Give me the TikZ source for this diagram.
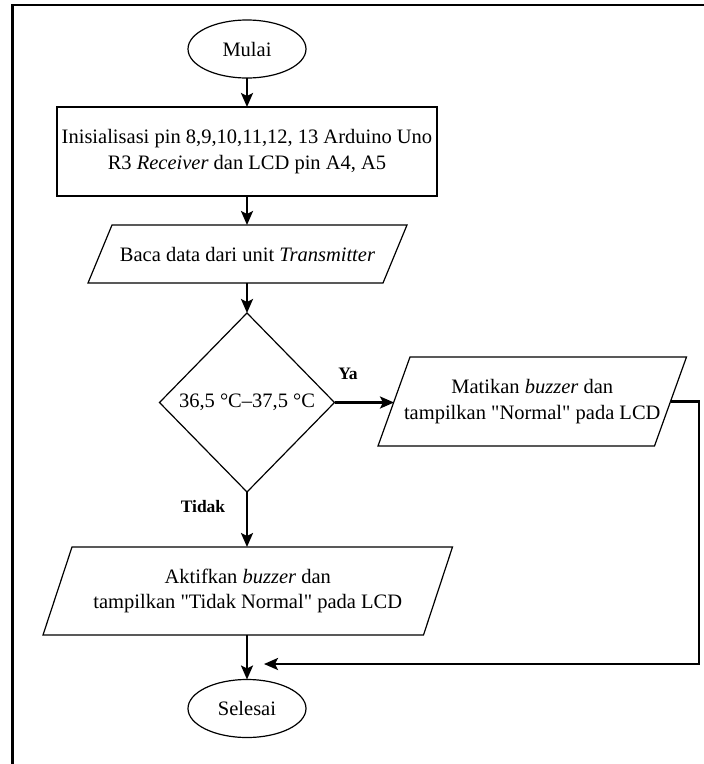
\documentclass[tikz,border=0pt]{standalone}
\usepackage{fontspec}
\setmainfont{Liberation Serif}
\usetikzlibrary{calc,arrows.meta,shapes.geometric}
\begin{document}
\begin{tikzpicture}[x=1pt,y=-1pt,
  every node/.style={font=\fontsize{20.5}{25.5}\selectfont},
  shapeline/.style={draw=black,line width=1.2pt},
  term/.style={ellipse,shapeline,minimum width=118pt,minimum height=58pt,inner sep=0pt,outer sep=0pt},
  procbox/.style={rectangle,shapeline,minimum width=380pt,minimum height=89pt,inner sep=0pt,outer sep=0pt,align=center},
  holder/.style={rectangle,draw=none,inner sep=0pt,outer sep=0pt,align=center},
  flow/.style={line width=2.4pt,-{Stealth[length=14pt,width=12pt,inset=3pt]}},
  lbl/.style={font=\fontsize{17.5}{20}\selectfont\bfseries,inner sep=0pt}]
\useasboundingbox (0,0) rectangle (704,764);
% frame
\draw[line width=2.2pt] (12.5,764) -- (12.5,5) -- (704,5);
% nodes
\node[term] (start) at (247,49) {Mulai};
\node[procbox] (init) at (247,151.5) {Inisialisasi pin 8,9,10,11,12, 13 Arduino Uno\\R3 \textit{Receiver} dan LCD pin A4, A5};
\node[holder,minimum width=295pt,minimum height=58pt] (read) at (247.5,254) {Baca data dari unit \textit{Transmitter}};
\draw[shapeline] ($(read.north west)+(12,0)$) -- ($(read.north east)+(12,0)$) -- ($(read.south east)+(-12,0)$) -- ($(read.south west)+(-12,0)$) -- cycle;
\node[holder,minimum width=175pt,minimum height=179pt] (dec) at (247,402.5) {36,5 °C–37,5 °C};
\draw[shapeline] (dec.north) -- (dec.east) -- (dec.south) -- (dec.west) -- cycle;
\node[holder,minimum width=276.5pt,minimum height=89pt] (yes) at (532.25,401.5) {Matikan \textit{buzzer} dan\\tampilkan \textquotedbl Normal\textquotedbl{} pada LCD};
\draw[shapeline] ($(yes.north west)+(16,0)$) -- ($(yes.north east)+(16,0)$) -- ($(yes.south east)+(-16,0)$) -- ($(yes.south west)+(-16,0)$) -- cycle;
\node[holder,minimum width=380.5pt,minimum height=88pt] (no) at (247.75,591) {Aktifkan \textit{buzzer} dan\\tampilkan \textquotedbl Tidak Normal\textquotedbl{} pada LCD};
\draw[shapeline] ($(no.north west)+(14.5,0)$) -- ($(no.north east)+(14.5,0)$) -- ($(no.south east)+(-14.5,0)$) -- ($(no.south west)+(-14.5,0)$) -- cycle;
\node[term] (stop) at (247,708.5) {Selesai};
\coordinate (join) at (264,664);
% labels
\node[lbl] (ya) at (348,374) {Ya};
\node[lbl] (tidak) at (203,507) {Tidak};
% connectors
\draw[flow] (start.south) -- (init.north);
\draw[flow] (init.south) -- (init.south |- read.north);
\draw[flow] (init.south |- read.south) -- (dec.north);
\draw[flow] (dec.east) -- (dec.east -| yes.west);
\draw[flow] (dec.south) -- (dec.south |- no.north);
\draw[flow] (dec.south |- no.south) -- (stop.north);
\draw[flow] (yes.east) -- ++(28.5,0) |- (join);
\end{tikzpicture}
\end{document}
